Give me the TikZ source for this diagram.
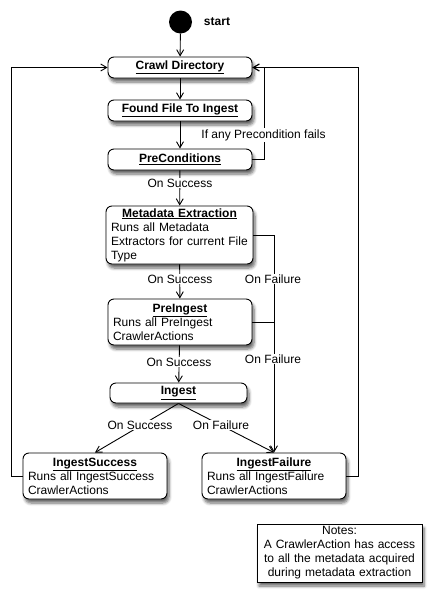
\documentclass[tikz,border=0pt]{standalone}
\usepackage{fontspec}
\setmainfont{Liberation Sans}
\usetikzlibrary{arrows.meta,shadows.blur}
\tikzset{
  txt/.style={font=\fontsize{12}{14}\selectfont},
  base/.style={txt, draw=black, line width=0.9pt, fill=white, inner xsep=5pt, inner ysep=1pt,
    blur shadow={shadow xshift=2pt, shadow yshift=-4pt, shadow blur steps=6, shadow blur radius=3pt, shadow opacity=60}},
  state/.style={base, rounded corners=6pt},
  onebox/.style={state, minimum width=144pt, minimum height=21pt},
  multibox/.style={state, align=left, text width=134pt, minimum height=46pt},
  notebox/.style={base, align=center, text width=155pt, minimum height=58pt},
  flow/.style={draw=black, line width=0.9pt, -{Straight Barb[length=6pt,width=7pt]}},
  link/.style={draw=black, line width=0.9pt},
  lbl/.style={txt, fill=white, inner sep=1pt},
}
\newcommand{\ttl}[1]{\underline{\textbf{#1}}}
\newcommand{\ctitle}[1]{\hfill\underline{\textbf{#1}}\hfill\null}
\begin{document}
\begin{tikzpicture}[x=1pt,y=-1pt]
\useasboundingbox (0,0) rectangle (442,606);

\node[circle, fill=black, minimum size=23pt, inner sep=0pt] (start) at (180.5,22) {};
\node[txt, font=\bfseries\fontsize{12}{14}\selectfont] (startlbl) at (217,22) {start};

\node[onebox] (crawl) at (180,67.5) {\ttl{Crawl Directory}};
\node[onebox] (found) at (180,110.5) {\ttl{Found File To Ingest}};
\node[onebox] (precond) at (180,159.5) {\ttl{PreConditions}};
\node[state, align=left, text width=137pt, minimum height=58pt] (meta) at (179.5,235)
  {\ctitle{Metadata Extraction}\\Runs all Metadata\\Extractors for current File\\Type};
\node[multibox] (preingest) at (180,322)
  {\ctitle{PreIngest}\\Runs all PreIngest\\CrawlerActions};
\node[state, minimum width=137pt, minimum height=20pt] (ingest) at (178.5,393) {\ttl{Ingest}};
\node[multibox] (isucc) at (95,476)
  {\ctitle{IngestSuccess}\\Runs all IngestSuccess\\CrawlerActions};
\node[multibox] (ifail) at (274,476)
  {\ctitle{IngestFailure}\\Runs all IngestFailure\\CrawlerActions};
\node[notebox] (notes) at (339.5,553)
  {Notes:\\A CrawlerAction has access\\to all the metadata acquired\\during metadata extraction};

% main flow
\draw[flow] (start) -- (crawl);
\draw[flow] (crawl) -- (found);
\draw[flow] (found) -- (precond);
\draw[flow] (precond) -- (meta);
\draw[flow] (meta) -- (preingest);
\draw[flow] (preingest) -- (ingest);
\draw[flow] (ingest.south) -- (isucc.north);
\draw[flow] (ingest.south) -- (ifail.north);

% failure branches
\draw[flow] (meta.east) -| (ifail.north);
\draw[link] (preingest.east) -- (preingest.east -| ifail.north);

% loops back
\draw[flow] (precond.east) -- ++(12,0) |- (crawl.east);
\draw[flow] (ifail.east) -- ++(12,0) |- (crawl.east);
\draw[flow] (isucc.west) -- ++(-11,0) |- (crawl.west);

% labels
\node[lbl] (l1) at (180,183) {On Success};
\node[lbl] (l2) at (180,279) {On Success};
\node[lbl] (l3) at (179,362) {On Success};
\node[lbl] (l4) at (140,425) {On Success};
\node[lbl] (l5) at (221,425) {On Failure};
\node[lbl] (l6) at (273,279) {On Failure};
\node[lbl] (l7) at (273,359) {On Failure};
\node[lbl] (l8) at (263.5,135) {If any Precondition fails};
\end{tikzpicture}
\end{document}
